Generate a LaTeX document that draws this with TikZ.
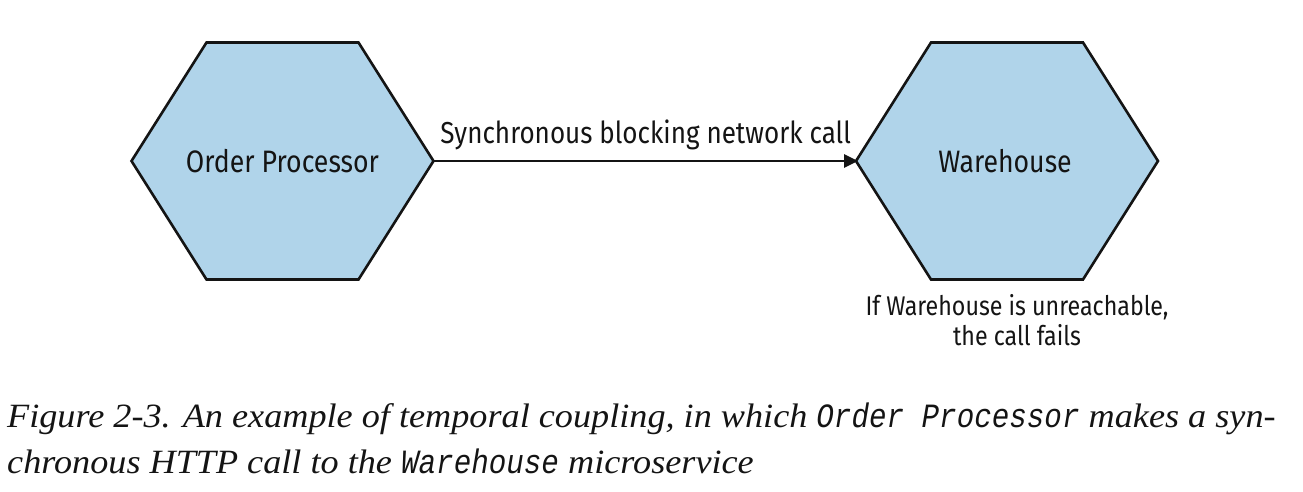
\documentclass[tikz,border=0pt]{standalone}
\usepackage{fontspec}
\setmainfont{Liberation Serif}
\newfontfamily\labelfont{Fira Sans}[FakeStretch=0.86]
\newfontfamily\capfont{Liberation Serif}[FakeStretch=1.065]
\newfontfamily\capmono{Liberation Mono}[FakeStretch=0.86]
\usetikzlibrary{arrows.meta,positioning}
\definecolor{hexblue}{RGB}{176,212,234}
\definecolor{inkline}{RGB}{20,20,20}
\tikzset{
  hexagon/.style={draw=inkline,fill=hexblue,line width=2.6pt,line join=miter},
  svctext/.style={font=\labelfont\fontsize{31}{34}\selectfont,text=inkline,inner sep=0pt,align=center},
  calltext/.style={svctext,font=\labelfont\fontsize{30.3}{34}\selectfont},
  notetext/.style={font=\labelfont\fontsize{27}{30}\selectfont,text=inkline,inner sep=0pt,align=center},
  caption/.style={font=\capfont\itshape\fontsize{34}{46}\selectfont,text=inkline,anchor=base west,inner sep=0pt}
}
\begin{document}
\begin{tikzpicture}[x=1pt,y=-1pt]
  \useasboundingbox (0,0) rectangle (1303,491);

  % the two services
  \draw[hexagon,shift={(282.5,161)}] (-151,0) -- (-76,-118.5) -- (76,-118.5) -- (151,0) -- (76,118.5) -- (-76,118.5) -- cycle;
  \draw[hexagon,shift={(1007,161)}] (-151,0) -- (-76,-118.5) -- (76,-118.5) -- (151,0) -- (76,118.5) -- (-76,118.5) -- cycle;

  \node[svctext] (op) at (282.5,161) {Order Processor};
  \node[svctext] (wh) at (1005,161) {Warehouse};
  \coordinate (optip) at (433.5,161);
  \coordinate (whtip) at (858,161);

  \draw[line width=2.6pt,draw=inkline,-{Triangle[length=14pt,width=13pt]}] (optip) -- (whtip)
    node[calltext,midway,above=10pt] (call) {Synchronous blocking network call};

  \node[notetext] (fails) at (1017,320) {If Warehouse is unreachable,\\the call fails};

  % caption
  \node[caption] (cap1) at (7,427) {Figure 2-3. An example of temporal coupling, in which {\capmono\itshape Order Processor} makes a syn-};
  \node[caption] (cap2) at (7,473) {chronous HTTP call to the {\capmono\itshape Warehouse} microservice};

\end{tikzpicture}
\end{document}
